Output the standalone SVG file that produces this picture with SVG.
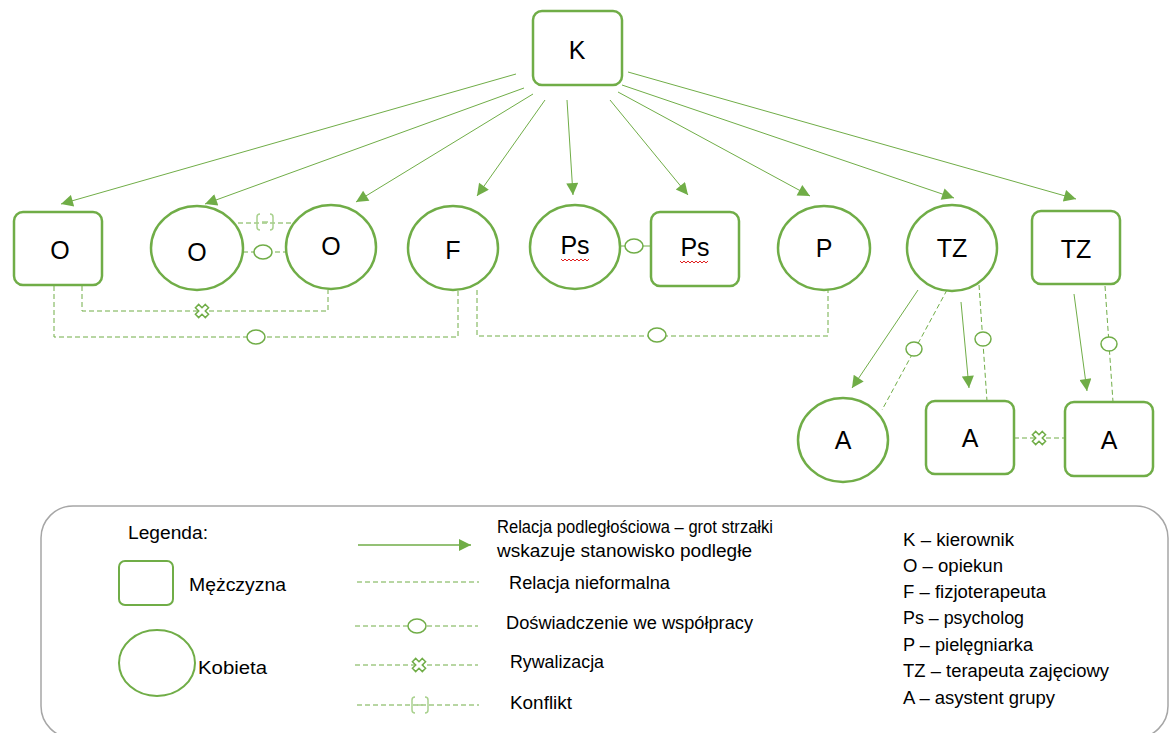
<svg xmlns="http://www.w3.org/2000/svg" width="1171" height="733" viewBox="0 0 1171 733">
<style>
.node{fill:#fff;stroke:#70AD47;stroke-width:2.5}
.lbl{font-family:"Liberation Sans",Arial,sans-serif;font-size:25px;fill:#000;text-anchor:middle}
.arr{stroke:#70AD47;stroke-width:1;fill:none;marker-end:url(#ah)}
.dash{stroke:#70AD47;stroke-width:1;fill:none;stroke-dasharray:5,3}
.circ{fill:#fff;stroke:#70AD47;stroke-width:1.5}
.lt{font-family:"Liberation Sans",Arial,sans-serif;font-size:17.5px;fill:#000}
.sq{stroke:#E02020;stroke-width:1;fill:none}
</style>
<defs>
<marker id="ah" viewBox="0 0 10 10" refX="10" refY="5" markerWidth="14" markerHeight="12" markerUnits="userSpaceOnUse" orient="auto">
<path d="M0,0 L10,5 L0,10 z" fill="#70AD47"/>
</marker>
<path id="xm" d="M-2.3,-7 L2.3,-7 L2.3,-2.3 L7,-2.3 L7,2.3 L2.3,2.3 L2.3,7 L-2.3,7 L-2.3,2.3 L-7,2.3 L-7,-2.3 L-2.3,-2.3 z" transform="rotate(45)" fill="#fff" stroke="#70AD47" stroke-width="1.5"/>
<g id="cf" fill="none" stroke="#A9D18E" stroke-width="1.5">
<path d="M-5,-8 Q-8,-8 -8,-5 L-8,5 Q-8,8 -5,8"/>
<path d="M5,-8 Q8,-8 8,-5 L8,5 Q8,8 5,8"/>
<path d="M-3,0 L3,0"/>
</g>
</defs>

<g id="connectors">
<line class="arr" x1="516" y1="74" x2="61" y2="204"/>
<line class="arr" x1="524" y1="88" x2="205" y2="204"/>
<line class="arr" x1="533" y1="94" x2="356" y2="202"/>
<line class="arr" x1="545" y1="100" x2="477" y2="196"/>
<line class="arr" x1="567" y1="100" x2="573" y2="195"/>
<line class="arr" x1="610" y1="100" x2="688" y2="195"/>
<line class="arr" x1="618" y1="92" x2="810" y2="196"/>
<line class="arr" x1="622" y1="85" x2="954" y2="198"/>
<line class="arr" x1="628" y1="72" x2="1076" y2="199"/>

<line class="dash" x1="238" y1="223" x2="292" y2="223"/>
<use href="#cf" x="265" y="222"/>
<line class="dash" x1="243" y1="252" x2="286" y2="252"/>
<ellipse class="circ" cx="263" cy="252" rx="9" ry="7"/>

<polyline class="dash" points="82,286 82,311 328,311 328,290"/>
<use href="#xm" x="202" y="311"/>
<polyline class="dash" points="54,286 54,337 458,337 458,290"/>
<ellipse class="circ" cx="256" cy="337" rx="9" ry="7"/>
<polyline class="dash" points="477,290 477,336 828,336 828,290"/>
<ellipse class="circ" cx="657" cy="335" rx="9" ry="7"/>

<line x1="621" y1="246" x2="651" y2="246" stroke="#70AD47" stroke-width="1"/>
<ellipse class="circ" cx="634" cy="246" rx="9" ry="7"/>

<line class="arr" x1="918" y1="290" x2="852" y2="388"/>
<line class="dash" x1="947" y1="290" x2="882" y2="410"/>
<ellipse class="circ" cx="914" cy="349" rx="8" ry="7"/>
<line class="arr" x1="961" y1="302" x2="969" y2="388"/>
<line class="dash" x1="979" y1="285" x2="987" y2="401"/>
<ellipse class="circ" cx="983" cy="339" rx="8" ry="7"/>
<line class="dash" x1="1014" y1="438" x2="1065" y2="438"/>
<use href="#xm" x="1039" y="438"/>
<line class="arr" x1="1074" y1="294" x2="1087" y2="391"/>
<line class="dash" x1="1105" y1="286" x2="1113" y2="402"/>
<ellipse class="circ" cx="1109" cy="344" rx="8" ry="7"/>
</g>

<g id="n-K"><rect class="node" x="533" y="11" width="89" height="74" rx="9"/><text class="lbl" x="577" y="59">K</text></g>
<g id="n-O1"><rect class="node" x="14" y="212" width="88" height="73" rx="9"/><text class="lbl" x="60" y="259">O</text></g>
<g id="n-O2"><ellipse class="node" cx="197" cy="248" rx="46" ry="42"/><text class="lbl" x="197" y="261">O</text></g>
<g id="n-O3"><ellipse class="node" cx="331" cy="247" rx="45" ry="42"/><text class="lbl" x="331" y="255">O</text></g>
<g id="n-F"><ellipse class="node" cx="453" cy="248" rx="45" ry="42"/><text class="lbl" x="453" y="259">F</text></g>
<g id="n-Ps1"><ellipse class="node" cx="575" cy="247" rx="45" ry="42"/><text class="lbl" x="575" y="254">Ps</text><path class="sq" d="M561,259 l2,2 l2,-2 l2,2 l2,-2 l2,2 l2,-2 l2,2 l2,-2 l2,2 l2,-2 l2,2 l2,-2 l2,2 l2,-2"/></g>
<g id="n-Ps2"><rect class="node" x="651" y="212" width="88" height="74" rx="9"/><text class="lbl" x="695" y="256">Ps</text><path class="sq" d="M680,261 l2,2 l2,-2 l2,2 l2,-2 l2,2 l2,-2 l2,2 l2,-2 l2,2 l2,-2 l2,2 l2,-2 l2,2 l2,-2"/></g>
<g id="n-P"><ellipse class="node" cx="824" cy="248" rx="46" ry="42"/><text class="lbl" x="824" y="257">P</text></g>
<g id="n-TZ1"><ellipse class="node" cx="952" cy="248" rx="45" ry="43"/><text class="lbl" x="952" y="257">TZ</text></g>
<g id="n-TZ2"><rect class="node" x="1032" y="211" width="88" height="73" rx="9"/><text class="lbl" x="1076" y="258">TZ</text></g>
<g id="n-A1"><ellipse class="node" cx="843" cy="440" rx="45" ry="42"/><text class="lbl" x="843" y="449">A</text></g>
<g id="n-A2"><rect class="node" x="926" y="401" width="88" height="73" rx="9"/><text class="lbl" x="970" y="447">A</text></g>
<g id="n-A3"><rect class="node" x="1065" y="402" width="88" height="74" rx="9"/><text class="lbl" x="1109" y="449">A</text></g>

<g id="legend">
<rect x="41" y="506" width="1127" height="232" rx="32" fill="none" stroke="#A6A6A6" stroke-width="1.5"/>
<text class="lt" x="128" y="539" textLength="80" lengthAdjust="spacingAndGlyphs">Legenda:</text>
<rect x="119" y="561" width="54" height="44" rx="6" fill="#fff" stroke="#70AD47" stroke-width="2"/>
<text class="lt" x="189" y="591" textLength="97" lengthAdjust="spacingAndGlyphs">Mężczyzna</text>
<ellipse cx="157" cy="663" rx="38" ry="33" fill="#fff" stroke="#70AD47" stroke-width="2"/>
<text class="lt" x="198" y="674" textLength="69" lengthAdjust="spacingAndGlyphs">Kobieta</text>

<line x1="358" y1="545" x2="471" y2="545" stroke="#70AD47" stroke-width="1.5" marker-end="url(#ah)"/>
<line class="dash" x1="357" y1="582" x2="479" y2="582" stroke-dasharray="4,3"/>
<line class="dash" x1="355" y1="626" x2="478" y2="626" stroke-dasharray="4,3"/>
<ellipse class="circ" cx="417" cy="626" rx="9" ry="7"/>
<line class="dash" x1="355" y1="665" x2="478" y2="665" stroke-dasharray="4,3"/>
<use href="#xm" x="419" y="665"/>
<line class="dash" x1="357" y1="705" x2="479" y2="705" stroke-dasharray="4,3"/>
<use href="#cf" x="420" y="705"/>

<text class="lt" x="497" y="533" textLength="276" lengthAdjust="spacingAndGlyphs">Relacja podległościowa – grot strzałki</text>
<text class="lt" x="497" y="557" textLength="255" lengthAdjust="spacingAndGlyphs">wskazuje stanowisko podległe</text>
<text class="lt" x="509" y="589" textLength="161" lengthAdjust="spacingAndGlyphs">Relacja nieformalna</text>
<text class="lt" x="506" y="629" textLength="247" lengthAdjust="spacingAndGlyphs">Doświadczenie we współpracy</text>
<text class="lt" x="510" y="668" textLength="94" lengthAdjust="spacingAndGlyphs">Rywalizacja</text>
<text class="lt" x="510" y="709" textLength="62" lengthAdjust="spacingAndGlyphs">Konflikt</text>

<text class="lt" x="903" y="546" textLength="111" lengthAdjust="spacingAndGlyphs">K – kierownik</text>
<text class="lt" x="903" y="572" textLength="100" lengthAdjust="spacingAndGlyphs">O – opiekun</text>
<text class="lt" x="903" y="598" textLength="143" lengthAdjust="spacingAndGlyphs">F – fizjoterapeuta</text>
<text class="lt" x="903" y="624" textLength="121" lengthAdjust="spacingAndGlyphs">Ps – psycholog</text>
<text class="lt" x="903" y="651" textLength="130" lengthAdjust="spacingAndGlyphs">P – pielęgniarka</text>
<text class="lt" x="903" y="677" textLength="206" lengthAdjust="spacingAndGlyphs">TZ – terapeuta zajęciowy</text>
<text class="lt" x="903" y="704" textLength="152" lengthAdjust="spacingAndGlyphs">A – asystent grupy</text>
</g>
</svg>
